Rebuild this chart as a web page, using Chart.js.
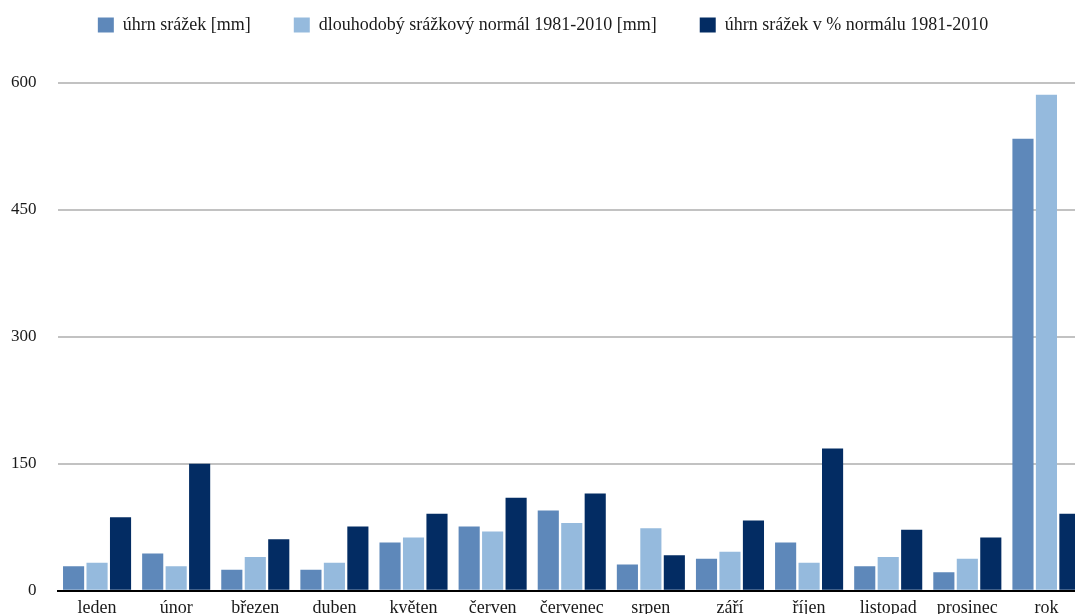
<!DOCTYPE html>
<html>
<head>
<meta charset="utf-8">
<script src="https://cdn.jsdelivr.net/npm/chart.js@4.4.1/dist/chart.umd.min.js"></script>
<style>
  html, body { margin: 0; padding: 0; background: #fff; overflow: hidden; }
  #wrap { width: 1090px; height: 622px; }
</style>
</head>
<body>
<div id="wrap"><canvas id="c" width="1090" height="622"></canvas></div>
<script>
// měsíce + rok
var categories = ['leden', 'únor', 'březen', 'duben', 'květen', 'červen', 'červenec',
  'srpen', 'září', 'říjen', 'listopad', 'prosinec', 'rok'];

var uhrn = [29, 44, 25, 25, 57, 76, 95, 31, 38, 57, 29, 22, 534];
var normal = [33, 29, 40, 33, 63, 70, 80, 74, 46, 33, 40, 38, 586];
var procenta = [87, 150, 61, 76, 91, 110, 115, 42, 83, 168, 72, 63, 91];

var yTicks = [0, 150, 300, 450, 600];

var serif = '"Liberation Serif", "DejaVu Serif", serif';

// víc místa pod legendou a drobný posun legendy doprava
var legendSpace = {
  id: 'legendSpace',
  beforeInit: function (chart) {
    var origFit = chart.legend.fit;
    chart.legend.fit = function () {
      origFit.call(this);
      this.height += 39;
    };
  },
  afterLayout: function (chart) {
    chart.legend.left += 5;
    chart.legend.right += 5;
  }
};

new Chart(document.getElementById('c').getContext('2d'), {
  type: 'bar',
  data: {
    labels: categories,
    datasets: [
      { label: 'úhrn srážek [mm]', data: uhrn, backgroundColor: '#5e88ba' },
      { label: 'dlouhodobý srážkový normál 1981-2010 [mm]', data: normal, backgroundColor: '#95badd' },
      { label: 'úhrn srážek v % normálu 1981-2010', data: procenta, backgroundColor: '#032c63' }
    ]
  },
  plugins: [legendSpace],
  options: {
    responsive: false,
    animation: false,
    devicePixelRatio: 1,
    layout: { padding: { left: -10, right: 4, top: -27, bottom: -18 } },
    datasets: { bar: { categoryPercentage: 0.89, barPercentage: 0.9 } },
    plugins: {
      legend: {
        position: 'top',
        labels: {
          boxWidth: 16,
          boxHeight: 15,
          padding: 43,
          color: '#1a1a1a',
          font: { family: serif, size: 18 }
        }
      },
      tooltip: { enabled: false }
    },
    scales: {
      x: {
        grid: { display: false, drawTicks: false, tickLength: 0 },
        border: { display: true, color: '#000', width: 2 },
        ticks: { color: '#1a1a1a', padding: 7, font: { family: serif, size: 18 }, maxRotation: 0, autoSkip: false }
      },
      y: {
        min: 0,
        max: 600,
        afterBuildTicks: function (axis) {
          axis.ticks = yTicks.map(function (v) { return { value: v }; });
        },
        grid: {
          drawTicks: false,
          tickLength: 0,
          lineWidth: 2,
          color: function (ctx) { return ctx.tick && ctx.tick.value === 0 ? '#000' : '#c2c2c2'; }
        },
        border: { display: false },
        ticks: { color: '#1a1a1a', padding: 21, font: { family: serif, size: 17 } }
      }
    }
  }
});
</script>
</body>
</html>
